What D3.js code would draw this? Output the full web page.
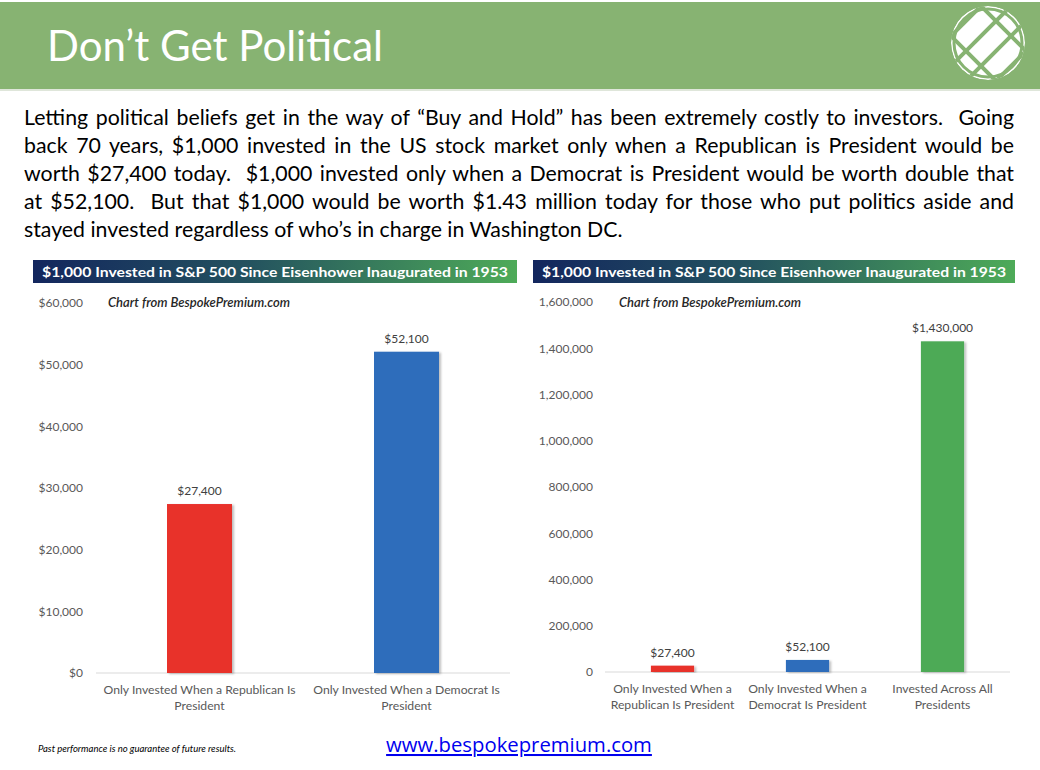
<!DOCTYPE html>
<html>
<head>
<meta charset="utf-8">
<title>Don't Get Political</title>
<script src="https://cdnjs.cloudflare.com/ajax/libs/d3/7.8.5/d3.min.js"></script>
<style>
  body { margin: 0; background: #fff; font-family: Lato, "Open Sans", sans-serif; }
  #page { position: relative; width: 1040px; height: 770px; overflow: hidden; }
  svg { position: absolute; left: 0; top: 0; }
  #intro { position: absolute; left: 24px; top: 103px; width: 990px; font-size: 21.3px; line-height: 28px; color: #000; }
  #intro div { text-align: justify; text-align-last: justify; }
  #intro div.last { text-align-last: left; }
</style>
</head>
<body>
<div id="page">
  <svg id="chart" width="1040" height="770"></svg>
  <div id="intro"></div>
</div>
<script>
// text
var introLines = [
  "Letting political beliefs get in the way of \u201cBuy and Hold\u201d has been extremely costly to investors.\u00a0 Going",
  "back 70 years, $1,000 invested in the US stock market only when a Republican is President would be",
  "worth $27,400 today.\u00a0 $1,000 invested only when a Democrat is President would be worth double that",
  "at $52,100.\u00a0 But that $1,000 would be worth $1.43 million today for those who put politics aside and",
  "stayed invested regardless of who\u2019s in charge in Washington DC."
];
var bannerTitle = "$1,000 Invested in S&P 500 Since Eisenhower Inaugurated in 1953";

// left chart
var leftCats = [["Only Invested When a Republican Is", "President"], ["Only Invested When a Democrat Is", "President"]];
var leftVals = [27400, 52100];
var leftTicks = [0, 10000, 20000, 30000, 40000, 50000, 60000];

// right chart
var rightCats = [["Only Invested When a", "Republican Is President"], ["Only Invested When a", "Democrat Is President"], ["Invested Across All", "Presidents"]];
var rightVals = [27400, 52100, 1430000];
var rightTicks = [0, 200000, 400000, 600000, 800000, 1000000, 1200000, 1400000, 1600000];

var barColors = ["#e8302a", "#2f6dbb", "#4daa57"];

d3.select("#intro").selectAll("div")
  .data(introLines)
  .enter().append("div")
  .attr("class", function(d, i) { return i == introLines.length - 1 ? "last" : null; })
  .text(function(d) { return d; });

var svg = d3.select("#chart");
var defs = svg.append("defs");

var grad = defs.append("linearGradient").attr("id", "bannerGrad");
grad.append("stop").attr("offset", "0%").attr("stop-color", "#13265e");
grad.append("stop").attr("offset", "45%").attr("stop-color", "#24535f");
grad.append("stop").attr("offset", "100%").attr("stop-color", "#4eab58");

var shadow = defs.append("filter").attr("id", "barShadow")
  .attr("x", "-10%").attr("y", "-10%").attr("width", "130%").attr("height", "120%");
shadow.append("feDropShadow").attr("dx", 2).attr("dy", 1).attr("stdDeviation", 1.2)
  .attr("flood-color", "#000").attr("flood-opacity", 0.25);

// header
svg.append("rect").attr("x", 0).attr("y", 2).attr("width", 1040).attr("height", 87).attr("fill", "#87b372");
svg.append("line").attr("x1", 0).attr("x2", 1040).attr("y1", 90).attr("y2", 90)
  .attr("stroke", "#dfe6da").attr("stroke-width", 2);
svg.append("text").attr("x", 47).attr("y", 61)
  .attr("fill", "#fff").attr("font-size", 42).attr("font-family", "Lato, sans-serif")
  .text("Don\u2019t Get Political");

// logo
var logo = svg.append("g").attr("transform", "translate(988,43)");
defs.append("clipPath").attr("id", "logoClip").append("circle").attr("r", 37);
var lg = logo.append("g").attr("clip-path", "url(#logoClip)");
lg.append("circle").attr("r", 37).attr("fill", "#fff");
var offsets = [-30, -15, 15, 30];
lg.selectAll("line.a").data(offsets).enter().append("line")
  .attr("x1", function(d) { return -60 + d; }).attr("y1", function(d) { return -60 - d; })
  .attr("x2", function(d) { return 60 + d; }).attr("y2", function(d) { return 60 - d; })
  .attr("stroke", "#87b372").attr("stroke-width", 4);
lg.selectAll("line.b").data([-22, -7, 8, 23]).enter().append("line")
  .attr("x1", function(d) { return -60 + d; }).attr("y1", function(d) { return 60 + d; })
  .attr("x2", function(d) { return 60 + d; }).attr("y2", function(d) { return -60 + d; })
  .attr("stroke", "#87b372").attr("stroke-width", 4);
logo.append("circle").attr("r", 34).attr("fill", "none").attr("stroke", "#87b372").attr("stroke-width", 3);

function drawPanel(opt) {
  var g = svg.append("g");
  // banner
  g.append("rect").attr("x", opt.bx).attr("y", 260).attr("width", opt.bw).attr("height", 23)
    .attr("fill", "url(#bannerGrad)");
  g.append("text").attr("x", opt.bx + opt.bw / 2).attr("y", 276.5)
    .attr("text-anchor", "middle").attr("fill", "#fff").attr("font-weight", "bold")
    .attr("font-size", 13.5).attr("textLength", opt.bw - 18).attr("lengthAdjust", "spacingAndGlyphs")
    .text(bannerTitle);

  var x = d3.scaleBand().domain(d3.range(opt.vals.length))
    .range([opt.x0, opt.x1]).paddingInner(opt.pad).paddingOuter(opt.pad / 2);
  var y = d3.scaleLinear().domain([0, opt.max]).range([opt.yb, opt.yt]);

  var yAxis = d3.axisLeft(y).tickValues(opt.ticks).tickSize(0).tickPadding(0).tickFormat(opt.fmt);
  var ya = g.append("g").attr("transform", "translate(" + opt.ax + ",0)").call(yAxis);
  ya.select(".domain").remove();
  ya.selectAll("text").attr("font-size", 12).attr("fill", "#595959").attr("font-family", "Lato, sans-serif");

  g.append("line").attr("x1", opt.x0).attr("x2", opt.x1).attr("y1", y(0)).attr("y2", y(0))
    .attr("stroke", "#d9d9d9").attr("stroke-width", 1);

  g.selectAll("rect.bar").data(opt.vals).enter().append("rect").attr("class", "bar")
    .attr("x", function(d, i) { return x(i); })
    .attr("width", x.bandwidth())
    .attr("y", function(d) { return y(d); })
    .attr("height", function(d) { return y(0) - y(d); })
    .attr("fill", function(d, i) { return barColors[i]; })
    .attr("filter", "url(#barShadow)");

  g.selectAll("text.val").data(opt.vals).enter().append("text").attr("class", "val")
    .attr("x", function(d, i) { return x(i) + x.bandwidth() / 2; })
    .attr("y", function(d) { return y(d) - 9; })
    .attr("text-anchor", "middle").attr("font-size", 12).attr("fill", "#404040")
    .text(function(d) { return d3.format("$,")(d); });

  var cl = g.selectAll("text.cat").data(opt.cats).enter().append("text").attr("class", "cat")
    .attr("text-anchor", "middle").attr("font-size", 12.2).attr("fill", "#595959")
    .attr("transform", function(d, i) { return "translate(" + (x(i) + x.bandwidth() / 2) + "," + (y(0) + 21) + ")"; });
  cl.selectAll("tspan").data(function(d) { return d; }).enter().append("tspan")
    .attr("x", 0).attr("dy", function(d, i) { return i ? 16 : 0; })
    .text(function(d) { return d; });

  g.append("text").attr("x", opt.nx).attr("y", 307)
    .attr("font-size", 13).attr("font-style", "italic").attr("font-weight", 600).attr("fill", "#262626")
    .text("Chart from BespokePremium.com");
}

drawPanel({
  bx: 33, bw: 484, x0: 96, x1: 510, pad: 0.686, yb: 673, yt: 303, max: 60000,
  ticks: leftTicks, fmt: d3.format("$,"), ax: 83, nx: 108,
  vals: leftVals, cats: leftCats
});
drawPanel({
  bx: 533, bw: 482, x0: 605, x1: 1010, pad: 0.68, yb: 672, yt: 302, max: 1600000,
  ticks: rightTicks, fmt: d3.format(","), ax: 593, nx: 619,
  vals: rightVals, cats: rightCats
});

// footer
svg.append("text").attr("x", 38).attr("y", 752)
  .attr("font-size", 9.5).attr("font-style", "italic").attr("fill", "#000")
  .text("Past performance is no guarantee of future results.");
svg.append("text").attr("x", 519).attr("y", 752).attr("text-anchor", "middle")
  .attr("font-size", 20.3).attr("fill", "#0000ee").attr("text-decoration", "underline")
  .attr("font-family", "Open Sans, sans-serif")
  .text("www.bespokepremium.com");
</script>
</body>
</html>
